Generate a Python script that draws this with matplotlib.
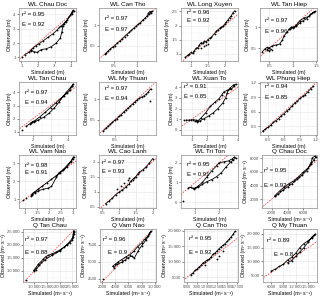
import matplotlib
matplotlib.use("Agg")
import matplotlib.pyplot as plt
from matplotlib.ticker import FuncFormatter, AutoMinorLocator

plt.rcParams['font.family'] = ['Liberation Sans', 'DejaVu Sans']

# ---------------- data (simulated vs observed) ----------------
titles = ["WL Chau Doc", "WL Can Tho", "WL Long Xuyen", "WL Tan Hiep",
          "WL Tan Chau", "WL My Thuan", "WL Xuan To", "WL Phung Hiep",
          "WL Vam Nao", "WL Cao Lanh", "WL Tri Ton", "Q Chau Doc",
          "Q Tan Chau", "Q Vam Nao", "Q Can Tho", "Q My Thuan"]
r2_values = ["0.95", "0.97", "0.96", "0.97", "0.97", "0.97", "0.91", "0.94",
             "0.98", "0.97", "0.95", "0.95", "0.97", "0.96", "0.95", "0.89"]
e_values = ["0.92", "0.97", "0.92", "0.96", "0.94", "0.94", "0.85", "0.85",
            "0.91", "0.93", "0.91", "0.92", "0.88", "0.9", "0.92", "0.8"]

chau_doc_sim = [1.2, 1.45, 1.55, 1.6, 1.7, 1.85, 2.05, 2.3, 2.6, 2.9, 3.15, 3.3, 3.4, 3.55, 3.75, 3.95,
                4.05, 4.12, 4.15, 4.05, 3.7, 3.5, 3.45, 3.35, 3.1, 2.8, 2.5, 2.2, 1.95, 1.75, 1.6]
chau_doc_obs = [1.2, 1.35, 1.45, 1.55, 1.65, 1.8, 1.95, 2.15, 2.4, 2.65, 2.9, 3.1, 3.2, 3.35, 3.6, 3.95,
                4.15, 4.3, 4.25, 4.05, 3.5, 3.2, 2.8, 2.35, 2.0, 1.75, 1.6, 1.55, 1.35, 1.4, 1.5]
chau_doc_stray_sim = [1.05]
chau_doc_stray_obs = [1.0]

can_tho_sim = [0.3, 0.33, 0.37, 0.42, 0.47, 0.52, 0.57, 0.62, 0.68, 0.73, 0.78, 0.83, 0.88,
               0.93, 0.98, 1.03, 1.08, 1.13, 1.18, 1.22, 1.26, 1.3, 1.33, 1.28, 1.24]
can_tho_obs = [0.28, 0.32, 0.36, 0.42, 0.46, 0.5, 0.56, 0.6, 0.66, 0.72, 0.77, 0.82, 0.87,
               0.92, 0.97, 1.02, 1.06, 1.12, 1.17, 1.22, 1.27, 1.3, 1.34, 1.33, 1.28]

long_xuyen_sim = [0.82, 0.9, 0.95, 1.0, 1.05, 1.1, 1.15, 1.2, 1.25, 1.3, 1.35, 1.4, 1.45, 1.5, 1.55,
                  1.6, 1.7, 1.75, 1.8, 1.85, 1.9, 1.95, 2.0, 2.05, 2.1, 2.15, 2.2, 2.25, 2.3]
long_xuyen_obs = [0.88, 0.95, 1.0, 1.05, 1.02, 1.12, 1.2, 1.22, 1.32, 1.4, 1.38, 1.45, 1.42, 1.5, 1.55,
                  1.58, 1.72, 1.8, 1.85, 1.9, 1.95, 1.98, 2.05, 2.12, 2.2, 2.28, 2.35, 2.45, 2.52]
long_xuyen_stray_sim = [1.3, 1.4, 1.45, 1.5]
long_xuyen_stray_obs = [1.2, 1.28, 1.3, 1.35]

tan_hiep_sim = [0.35, 0.4, 0.45, 0.5, 0.55, 0.5, 0.45, 0.55, 0.65, 0.72, 0.78, 0.82, 0.88, 0.92, 0.97,
                1.02, 1.08, 1.15, 1.22, 1.3, 1.38, 1.45, 1.47, 1.42, 1.35, 1.25, 1.15, 1.08, 1.0, 0.95]
tan_hiep_obs = [0.42, 0.48, 0.52, 0.5, 0.47, 0.44, 0.47, 0.55, 0.58, 0.6, 0.7, 0.8, 0.88, 0.95, 1.0,
                1.0, 1.02, 1.1, 1.15, 1.2, 1.3, 1.35, 1.37, 1.33, 1.25, 1.22, 1.15, 1.05, 0.98, 0.95]

tan_chau_sim = [1.6, 1.8, 1.95, 2.1, 2.4, 2.7, 3.0, 3.3, 3.55, 3.75, 3.95, 4.1, 4.25, 4.3, 4.2,
                3.9, 3.7, 3.5, 3.2, 2.9, 2.6, 2.3, 2.05, 1.9]
tan_chau_obs = [1.4, 1.6, 1.75, 1.85, 2.15, 2.5, 2.85, 3.2, 3.5, 3.75, 3.95, 4.2, 4.5, 4.65, 4.5,
                4.0, 3.7, 3.3, 2.8, 2.4, 2.1, 1.9, 1.75, 1.7]
tan_chau_stray_sim = [1.35]
tan_chau_stray_obs = [1.1]

my_thuan_sim = [0.25, 0.3, 0.35, 0.4, 0.45, 0.5, 0.55, 0.6, 0.65, 0.7, 0.75, 0.8, 0.85, 0.9,
                0.95, 1.0, 1.05, 1.1, 1.15, 1.2, 1.25, 1.3]
my_thuan_obs = [0.22, 0.28, 0.33, 0.38, 0.43, 0.48, 0.52, 0.58, 0.62, 0.68, 0.73, 0.78, 0.83, 0.88,
                0.93, 0.98, 1.02, 1.05, 1.08, 1.12, 1.18, 1.25]
my_thuan_stray_sim = [1.28]
my_thuan_stray_obs = [0.95]

xuan_to_sim = [0.65, 0.8, 0.95, 1.1, 1.25, 1.4, 1.6, 1.9, 2.2, 2.5, 2.75, 2.95, 3.1, 3.3, 3.55, 3.75,
               3.85, 3.7, 3.45, 3.3, 3.2, 3.0, 2.7, 2.4, 2.1, 1.8, 1.55, 1.35, 1.2]
xuan_to_obs = [0.9, 0.9, 0.92, 0.95, 0.9, 0.85, 1.1, 1.6, 2.2, 2.6, 2.9, 3.3, 3.6, 3.7, 3.8, 4.1,
               4.3, 4.2, 3.9, 3.5, 3.0, 2.5, 2.0, 1.6, 1.3, 1.05, 0.85, 0.75, 0.8]
xuan_to_stray_sim = [0.5]
xuan_to_stray_obs = [0.9]

phung_hiep_sim = [0.2, 0.25, 0.3, 0.35, 0.4, 0.45, 0.5, 0.55, 0.6, 0.65, 0.7, 0.75, 0.8, 0.85,
                  0.9, 0.95, 1.0, 1.05, 1.1, 1.15]
phung_hiep_obs = [0.2, 0.24, 0.28, 0.32, 0.38, 0.42, 0.46, 0.52, 0.56, 0.62, 0.66, 0.72, 0.78, 0.82,
                  0.88, 0.92, 0.96, 1.02, 1.08, 1.13]

vam_nao_wl_sim = [1.25, 1.3, 1.4, 1.55, 1.7, 1.9, 2.1, 2.3, 2.45, 2.6, 2.75, 2.9, 3.0, 3.02, 2.9,
                  2.6, 2.4, 2.3, 2.1, 1.95, 1.75, 1.55, 1.4, 1.3]
vam_nao_wl_obs = [1.15, 1.3, 1.4, 1.55, 1.7, 1.9, 2.1, 2.3, 2.45, 2.6, 2.8, 3.05, 3.25, 3.35, 3.1,
                  2.65, 2.45, 2.2, 1.7, 1.6, 1.55, 1.45, 1.35, 1.2]
vam_nao_wl_stray_sim = [0.9, 1.05]
vam_nao_wl_stray_obs = [0.95, 1.05]

cao_lanh_sim = [0.6, 0.7, 0.8, 0.9, 1.0, 1.1, 1.2, 1.3, 1.35, 1.4, 1.45, 1.5, 1.55, 1.6, 1.7, 1.8, 1.9, 2.0]
cao_lanh_obs = [0.6, 0.68, 0.78, 0.9, 0.98, 1.05, 1.15, 1.25, 1.35, 1.4, 1.45, 1.5, 1.58, 1.65, 1.72, 1.82, 1.95, 2.1]
cao_lanh_stray_sim = [0.95, 1.05, 1.15, 1.25, 1.3]
cao_lanh_stray_obs = [1.1, 1.2, 1.3, 1.4, 1.45]

tri_ton_sim = [0.7, 0.8, 0.9, 1.0, 1.1, 1.3, 1.5, 1.7, 1.9, 2.0, 2.2, 2.4, 2.55, 2.65, 2.7, 2.6, 2.5,
               2.3, 2.1, 1.9, 1.7, 1.5, 1.3, 1.1, 0.95]
tri_ton_obs = [0.72, 0.75, 0.7, 0.72, 0.8, 1.0, 1.3, 1.6, 1.85, 2.0, 2.05, 2.1, 2.2, 2.3, 2.25, 2.15, 2.05,
               1.8, 1.5, 1.3, 1.15, 1.05, 0.9, 0.75, 0.68]
tri_ton_stray_sim = [0.5]
tri_ton_stray_obs = [0.05]

q_chau_doc_sim = [2400, 3000, 3600, 4200, 4800, 5400, 6000, 6600, 7000, 7300, 7550, 7400, 7100, 7000,
                  6400, 5800, 5200, 4600, 4000, 3400, 2800, 2400]
q_chau_doc_obs = [2500, 3200, 3800, 4300, 4700, 5300, 6000, 6600, 7200, 7800, 8150, 8300, 8100, 7500,
                  6200, 5500, 4900, 4300, 3800, 3300, 2700, 2400]

q_tan_chau_sim = [9700, 10500, 11500, 12500, 13500, 14500, 15500, 17000, 18500, 20000, 21500, 23000, 24000,
                  25000, 25400, 25600, 25700, 25500, 25300, 25000, 23000, 20000, 17000, 14000, 12000, 10500, 9800]
q_tan_chau_obs = [10200, 11200, 12500, 13500, 14500, 15500, 16000, 16500, 17200, 18000, 19000, 20000, 20800,
                  21800, 23000, 24000, 25000, 25300, 24000, 22500, 20200, 17600, 16000, 14200, 12300, 10500, 9900]
q_tan_chau_stray_sim = [6500]
q_tan_chau_stray_obs = [6700]

q_vam_nao_sim = [3600, 4000, 4500, 5000, 5600, 6200, 6800, 7400, 8000, 8500, 9000, 9300, 9400, 9200,
                 8700, 8000, 7500, 6900, 6500, 6000, 5500, 5000, 4300, 3800]
q_vam_nao_obs = [4300, 4600, 5000, 5300, 5700, 6000, 6500, 7200, 7700, 8300, 8800, 9300, 9500, 9000,
                 8200, 7300, 6600, 5500, 5800, 5600, 5200, 4900, 4600, 4100]
q_vam_nao_stray_sim = [2200]
q_vam_nao_stray_obs = [2500]

q_can_tho_sim = [6000, 6500, 7000, 7500, 8000, 8500, 9000, 9500, 10000, 10500, 11000, 11500, 12000,
                 12500, 13000, 13500, 14000, 14500, 15000, 15500, 16000, 16500, 17000]
q_can_tho_obs = [5800, 6300, 7200, 7600, 8300, 8800, 9600, 10000, 10500, 10800, 11500, 12400, 12800,
                 13500, 14200, 14800, 15300, 15800, 16500, 17200, 18000, 18800, 19800]
q_can_tho_stray_sim = [12500, 13000, 14000, 9500]
q_can_tho_stray_obs = [11000, 12000, 13500, 8800]

q_my_thuan_sim = [6000, 7000, 8000, 9000, 10000, 11000, 12000, 13000, 14000, 15000, 16000, 16500, 16800,
                  16000, 15000, 14000, 13000, 12000, 11000, 10000]
q_my_thuan_obs = [6500, 7200, 8200, 9000, 10500, 11500, 13000, 15000, 16500, 17500, 18500, 19500, 20000,
                  19000, 17000, 15000, 13500, 11800, 10300, 9500]

# axis ticks
wl_ticks_1234 = [1, 2, 3, 4]
ticks_05_10 = [0.5, 1.0]
ticks_05_15 = [0.5, 1.0, 1.5]
ticks_10_20 = [1.0, 1.5, 2.0]
ticks_10_25 = [1.0, 1.5, 2.0, 2.5]
ticks_234 = [2, 3, 4]
ticks_01234 = [0, 1, 2, 3, 4]
ticks_03_12 = [0.3, 0.6, 0.9, 1.2]
ticks_10_30 = [1.0, 1.5, 2.0, 2.5, 3.0]
ticks_123 = [1, 2, 3]
ticks_05_20 = [0.5, 1.0, 1.5, 2.0]
ticks_12 = [1, 2]
ticks_012 = [0, 1, 2]
q_cd_x = [2000, 4000, 6000]
q_cd_y = [2000, 4000, 6000, 8000]
q_tc_ticks = [10000, 15000, 20000, 25000]
q_vn_x = [2000, 4000, 6000, 8000, 10000]
q_vn_y = [2500, 5000, 7500]
q_ct_x = [5000, 7500, 10000, 12500, 15000, 17500]
q_ct_y = [5000, 10000, 15000, 20000]
q_mt_x = [6000, 9000, 12000, 15000]
q_mt_y = [5000, 10000, 15000, 20000]

empty = []

panels = [
    (chau_doc_sim, chau_doc_obs, chau_doc_stray_sim, chau_doc_stray_obs, wl_ticks_1234, wl_ticks_1234, (0.85, 4.3), (0.75, 4.45), "m", (0.06, 0.88), (0.06, 0.68)),
    (can_tho_sim, can_tho_obs, empty, empty, ticks_05_10, ticks_05_10, (0.17, 1.42), (0.12, 1.42), "m", (0.1, 0.8), (0.1, 0.6)),
    (long_xuyen_sim, long_xuyen_obs, long_xuyen_stray_sim, long_xuyen_stray_obs, ticks_10_20, ticks_10_25, (0.7, 2.4), (0.75, 2.62), "m", (0.1, 0.92), (0.1, 0.77)),
    (tan_hiep_sim, tan_hiep_obs, empty, empty, ticks_05_15, ticks_05_10, (0.3, 1.52), (0.2, 1.45), "m", (0.08, 0.77), (0.08, 0.55)),
    (tan_chau_sim, tan_chau_obs, tan_chau_stray_sim, tan_chau_stray_obs, ticks_234, wl_ticks_1234, (1.2, 4.45), (0.75, 4.8), "m", (0.1, 0.8), (0.1, 0.62)),
    (my_thuan_sim, my_thuan_obs, my_thuan_stray_sim, my_thuan_stray_obs, ticks_05_10, ticks_05_10, (0.15, 1.42), (0.12, 1.42), "m", (0.1, 0.88), (0.1, 0.68)),
    (xuan_to_sim, xuan_to_obs, xuan_to_stray_sim, xuan_to_stray_obs, wl_ticks_1234, ticks_01234, (0.3, 4.0), (-0.5, 4.5), "m", (0.06, 0.92), (0.06, 0.72)),
    (phung_hiep_sim, phung_hiep_obs, empty, empty, ticks_03_12, ticks_03_12, (0.15, 1.22), (0.12, 1.22), "m", (0.08, 0.92), (0.08, 0.7)),
    (vam_nao_wl_sim, vam_nao_wl_obs, vam_nao_wl_stray_sim, vam_nao_wl_stray_obs, ticks_10_30, ticks_123, (0.75, 3.12), (0.5, 3.45), "m", (0.1, 0.8), (0.1, 0.67)),
    (cao_lanh_sim, cao_lanh_obs, cao_lanh_stray_sim, cao_lanh_stray_obs, ticks_05_20, ticks_05_20, (0.4, 2.1), (0.45, 2.22), "m", (0.06, 0.86), (0.06, 0.68)),
    (tri_ton_sim, tri_ton_obs, tri_ton_stray_sim, tri_ton_stray_obs, ticks_12, ticks_012, (0.4, 2.8), (-0.3, 2.4), "m", (0.1, 0.82), (0.1, 0.63)),
    (q_chau_doc_sim, q_chau_doc_obs, empty, empty, q_cd_x, q_cd_y, (800, 7700), (700, 8500), "q", (0.03, 0.7), (0.03, 0.43)),
    (q_tan_chau_sim, q_tan_chau_obs, q_tan_chau_stray_sim, q_tan_chau_stray_obs, q_tc_ticks, q_tc_ticks, (5500, 26400), (5800, 26000), "q", (0.04, 0.8), (0.04, 0.56)),
    (q_vam_nao_sim, q_vam_nao_obs, q_vam_nao_stray_sim, q_vam_nao_stray_obs, q_vn_x, q_vn_y, (1700, 10200), (2000, 9800), "q", (0.06, 0.8), (0.15, 0.55)),
    (q_can_tho_sim, q_can_tho_obs, q_can_tho_stray_sim, q_can_tho_stray_obs, q_ct_x, q_ct_y, (4300, 17700), (3500, 20500), "q", (0.1, 0.82), (0.1, 0.56)),
    (q_my_thuan_sim, q_my_thuan_obs, empty, empty, q_mt_x, q_mt_y, (4000, 17200), (2500, 21800), "q", (0.08, 0.79), (0.2, 0.51)),
]

W, H = 320, 296
col_left = [19, 99, 181, 260]
row_top = [8, 82, 155, 229]
ax_w, ax_h = 57, 53
# per-panel horizontal nudges (pixels) for wider tick labels
left_nudge = [0, 0, 0, 0, 0, 0, 0, 0, 0, 0, 0, 2, 4, 1, 3, 3]
width_nudge = [0, 0, 0, 0, 0, 0, 0, 0, 0, 0, 0, -2, -4, -1, -3, -3]


def fmt(v, pos=None):
    if abs(v) >= 10000:
        return f"{int(round(v)):,}".replace(",", " ")
    if abs(v) >= 1000:
        return str(int(round(v)))
    if float(v).is_integer():
        return str(int(v))
    return f"{v:.1f}"


fig = plt.figure(figsize=(W / 100, H / 100), dpi=100)
fig.patch.set_facecolor("white")

grey = "#8c8c8c"
for i, (sim, obs, ssim, sobs, xt, yt, xl, yl, unit, rpos, epos) in enumerate(panels):
    r, c = divmod(i, 4)
    left = (col_left[c] + left_nudge[i]) / W
    bottom = 1 - (row_top[r] + ax_h) / H
    ax = fig.add_axes([left, bottom, (ax_w + width_nudge[i]) / W, ax_h / H])
    ax.set_xlim(*xl)
    ax.set_ylim(*yl)
    ax.set_xticks(xt)
    ax.set_yticks(yt)
    ax.xaxis.set_major_formatter(FuncFormatter(fmt))
    ax.yaxis.set_major_formatter(FuncFormatter(fmt))
    ax.xaxis.set_minor_locator(AutoMinorLocator(2))
    ax.yaxis.set_minor_locator(AutoMinorLocator(2))
    ax.grid(True, which="major", color="#e3e3e3", linewidth=0.4)
    ax.grid(True, which="minor", color="#f2f2f2", linewidth=0.3)
    ax.set_axisbelow(True)
    for sp in ax.spines.values():
        sp.set_color(grey)
        sp.set_linewidth(0.5)
    tick_size = 2.6 if len(xt) > 5 else 3.1
    ax.tick_params(axis="x", which="major", labelsize=tick_size)
    ax.tick_params(axis="y", which="major", labelsize=3.1)
    ax.tick_params(which="major", length=1.5, width=0.4, color="#333333",
                   labelcolor="#4d4d4d", pad=1)
    ax.tick_params(which="minor", length=0)
    lo = min(xl[0], yl[0])
    hi = max(xl[1], yl[1])
    ax.plot([lo, hi], [lo, hi], color="#f03c3c", linewidth=0.55, dashes=(2, 1.5), zorder=1)
    ax.plot(sim, obs, "-o", color="black", linewidth=0.6, markersize=1.3,
            markeredgewidth=0, zorder=3)
    if ssim:
        ax.plot(ssim, sobs, "o", color="black", markersize=1.3, markeredgewidth=0, zorder=3)
    ax.set_title(titles[i], fontsize=4.6, pad=1.5)
    if unit == "m":
        ax.set_xlabel("Simulated (m)", fontsize=3.8, labelpad=1)
        ax.set_ylabel("Observed (m)", fontsize=3.8, labelpad=1)
    else:
        ax.set_xlabel("Simulated (m³ s⁻¹)", fontsize=3.8, labelpad=1)
        ax.set_ylabel("Observed (m³ s⁻¹)", fontsize=3.8, labelpad=0.8)
    ax.text(rpos[0], rpos[1], "r² = " + r2_values[i], transform=ax.transAxes,
            fontsize=4.3, va="center", ha="left")
    ax.text(epos[0], epos[1], "E = " + e_values[i], transform=ax.transAxes,
            fontsize=4.3, va="center", ha="left")

fig.savefig("out.png", dpi=100)
